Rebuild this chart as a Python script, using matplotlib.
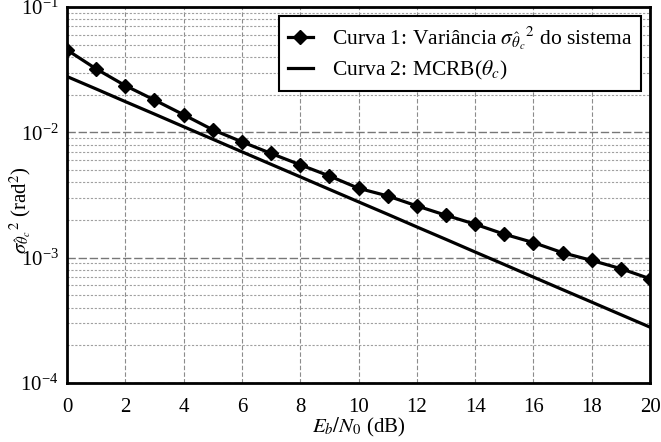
import matplotlib
matplotlib.use("Agg")
import matplotlib.pyplot as plt
from matplotlib.ticker import LogLocator, FixedLocator

plt.rcParams['font.family'] = ['Liberation Serif', 'DejaVu Serif']
plt.rcParams['mathtext.fontset'] = 'stix'

ebn0 = list(range(0, 21))
var_sys = [0.0455, 0.0321, 0.0236, 0.01813, 0.01383, 0.01049, 0.00841, 0.00679,
           0.00551, 0.00449, 0.00358, 0.00311, 0.00259, 0.00218, 0.00185, 0.00154,
           0.00132, 0.001096, 0.000951, 0.000817, 0.000679]
mcrb = [0.0279, 0.0222, 0.0176, 0.0140, 0.0111, 0.00882, 0.00700, 0.00556,
        0.00442, 0.00351, 0.00279, 0.00222, 0.00176, 0.00140, 0.00111, 0.000882,
        0.000700, 0.000556, 0.000442, 0.000351, 0.000279]
xticks = list(range(0, 21, 2))

label1 = r'Curva 1: Variância $\sigma_{\hat{\theta}_c}{}^2$ do sistema'
label2 = r'Curva 2: MCRB($\theta_c$)'

fig = plt.figure(figsize=(6.61, 4.42), dpi=100)
ax = fig.add_axes([0.1014, 0.1335, 0.882, 0.8505])

ax.semilogy(ebn0, var_sys, color='black', lw=2.3, marker='D', markersize=7,
            label=label1, zorder=3)
ax.semilogy(ebn0, mcrb, color='black', lw=2.3, label=label2, zorder=3)

ax.set_xlim(0, 20)
ax.set_ylim(1e-4, 1e-1)
ax.xaxis.set_major_locator(FixedLocator(xticks))
ax.yaxis.set_major_locator(LogLocator(base=10, numticks=10))
ax.yaxis.set_minor_locator(LogLocator(base=10, subs=range(2, 10), numticks=20))

ax.grid(True, which='major', axis='x', color='#8c8c8c', linestyle=(0, (4, 2)), lw=0.8)
ax.grid(True, which='major', axis='y', color='#777777', linestyle=(0, (6, 2)), lw=1.0)
ax.grid(True, which='minor', axis='y', color='#a0a0a0', linestyle=(0, (2, 1.5)), lw=0.8)

ax.tick_params(which='both', length=0, labelsize=15)
ax.tick_params(axis='y', pad=6)
ax.tick_params(axis='x', pad=11)
ax.yaxis.set_tick_params(which='minor', labelleft=False)
for s in ax.spines.values():
    s.set_linewidth(2)

ax.set_xlabel(r'$E_b/N_0$ (dB)', fontsize=15, labelpad=-1)
ax.set_ylabel(r'$\sigma_{\hat{\theta}_c}{}^2$ (rad$^2$)', fontsize=15)
ax.yaxis.set_label_coords(-0.058, 0.46)

leg = ax.legend(loc='upper right', fontsize=15.5, frameon=True, fancybox=False,
                edgecolor='black', framealpha=1, borderaxespad=0.4,
                handlelength=1.15, handletextpad=0.9, labelspacing=0.35,
                borderpad=0.4)
leg.get_frame().set_linewidth(1.5)

fig.savefig('out.png', dpi=100)
